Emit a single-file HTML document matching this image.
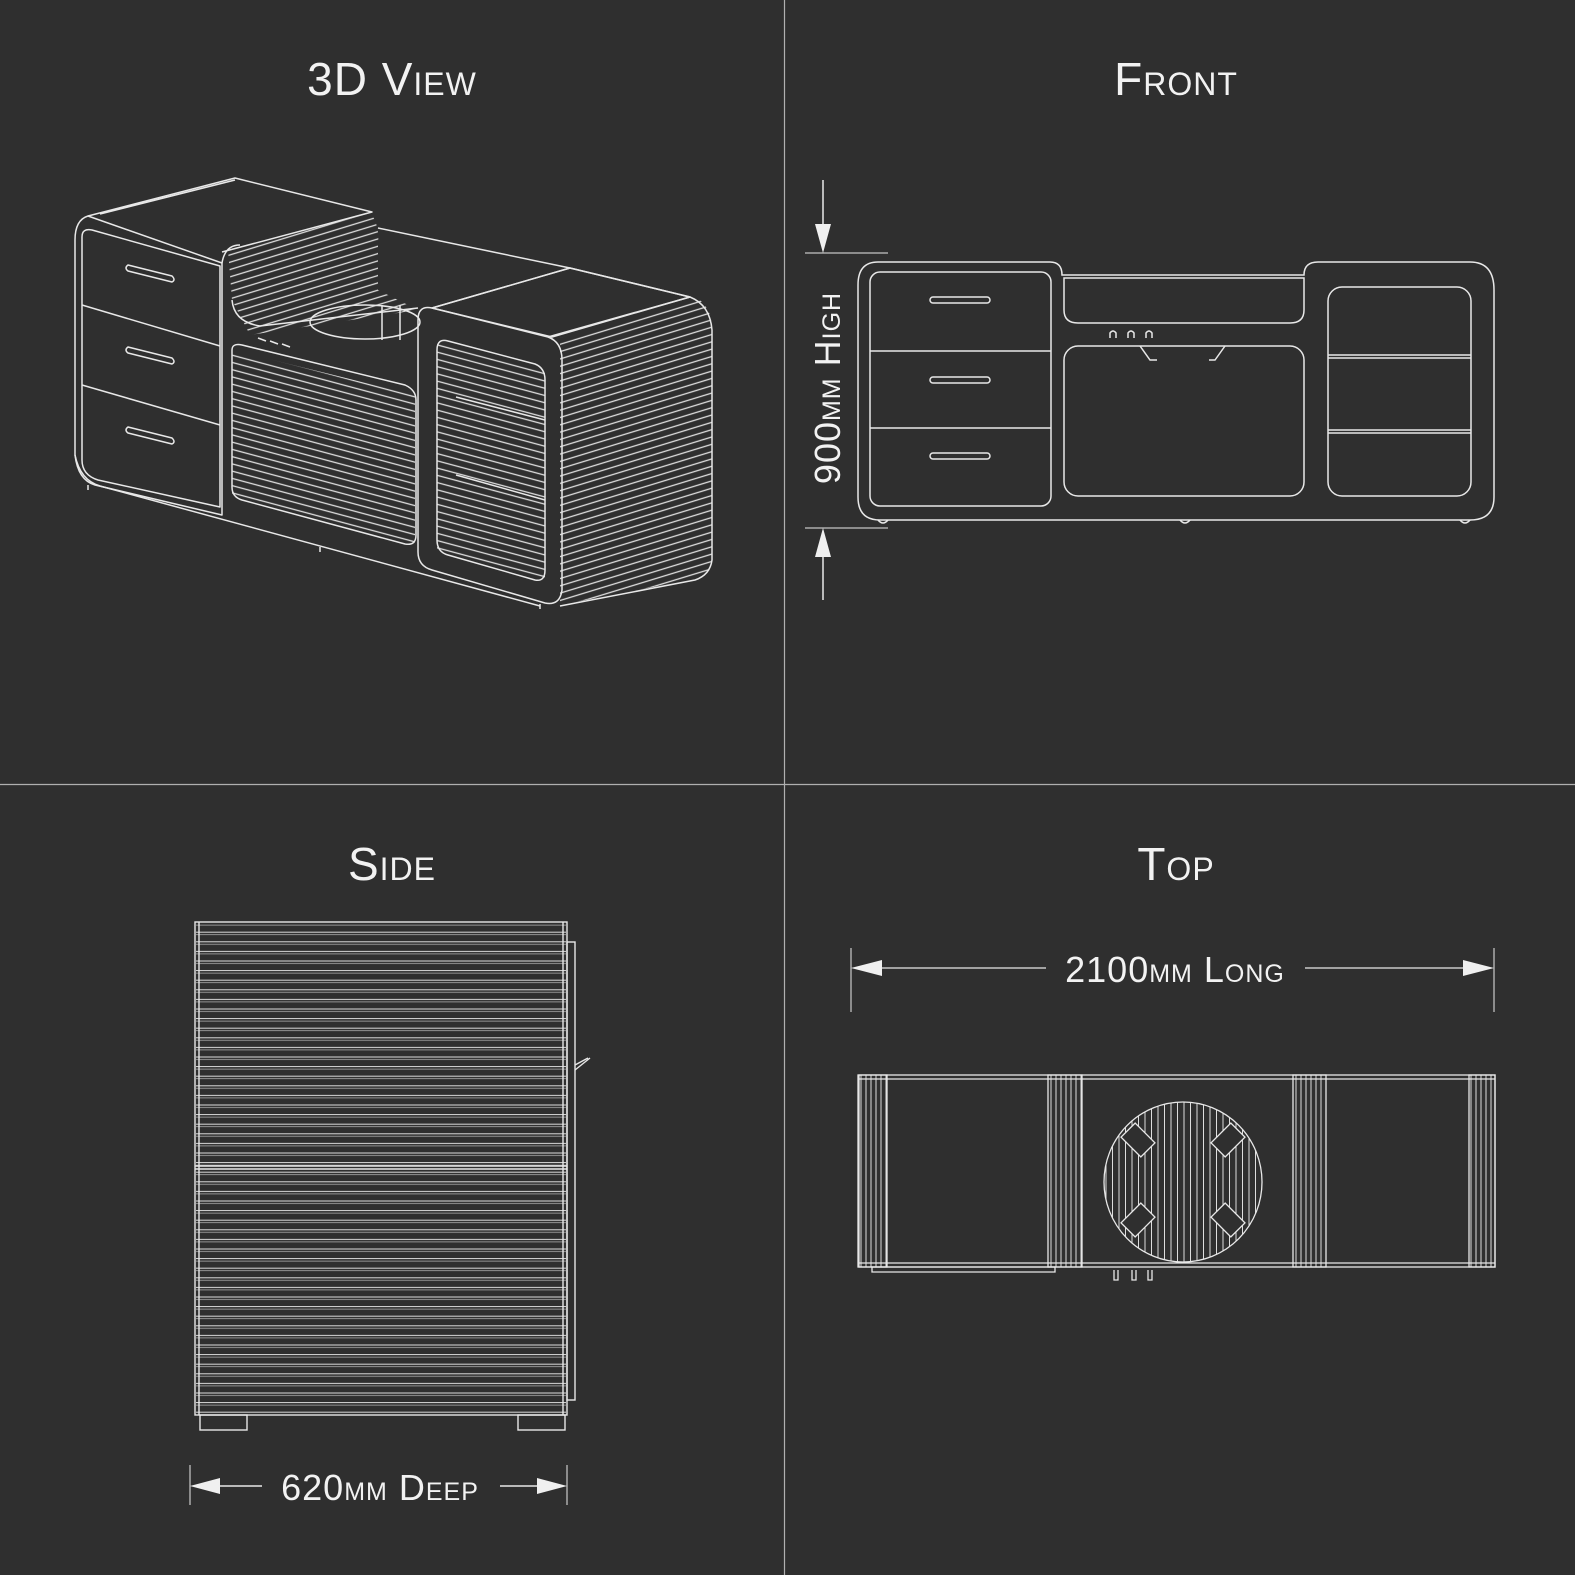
<!DOCTYPE html>
<html><head><meta charset="utf-8"><style>
html,body{margin:0;padding:0;background:#2f2f2f}
svg{display:block}
text{font-family:"Liberation Sans",sans-serif;fill:#f2f2f2;font-variant:small-caps}
</style></head><body>
<svg width="1575" height="1575" viewBox="0 0 1575 1575" xmlns="http://www.w3.org/2000/svg">
<defs>
<pattern id="s3" width="9" height="7" patternUnits="userSpaceOnUse" patternTransform="rotate(15)"><line x1="0" y1="3" x2="9" y2="3" stroke="#ddd" stroke-width="1.3"/></pattern>
<pattern id="s3b" width="9" height="7" patternUnits="userSpaceOnUse" patternTransform="rotate(-17)"><line x1="0" y1="3" x2="9" y2="3" stroke="#ddd" stroke-width="1.3"/></pattern>
<pattern id="sh" width="10" height="9.6" patternUnits="userSpaceOnUse"><line x1="0" y1="1" x2="10" y2="1" stroke="#ddd" stroke-width="1"/><line x1="0" y1="3.5" x2="10" y2="3.5" stroke="#aaa" stroke-width="0.8"/></pattern>
<pattern id="sv" width="5" height="10" patternUnits="userSpaceOnUse"><line x1="1" y1="0" x2="1" y2="10" stroke="#ddd" stroke-width="1"/></pattern>
<pattern id="sc" width="6.5" height="10" patternUnits="userSpaceOnUse"><line x1="1" y1="0" x2="1" y2="10" stroke="#ddd" stroke-width="1"/></pattern>
<clipPath id="cc"><ellipse cx="1183" cy="1182" rx="79" ry="80"/></clipPath>
</defs>
<rect width="1575" height="1575" fill="#2f2f2f"/>
<line x1="784.5" y1="0" x2="784.5" y2="1575" stroke="#b0b0b0" stroke-width="1.2"/>
<line x1="0" y1="784.5" x2="1575" y2="784.5" stroke="#b0b0b0" stroke-width="1.2"/>

<g font-size="46" text-anchor="middle" letter-spacing="1">
<text x="392" y="95">3D View</text>
<text x="1176" y="95">Front</text>
<text x="392" y="880">Side</text>
<text x="1176" y="880">Top</text>
</g>

<!-- 3D view -->
<g fill="none" stroke="#e8e8e8" stroke-width="1.5" stroke-linejoin="round">
<!-- back stripes areas -->
<path d="M228,250 L370,212 Q380,225 378,245 L378,290 L418,310 L250,335 L232,300 Z" fill="url(#s3b)" stroke="none"/>
<path d="M232,350 L415,395 L415,545 L232,497 Z" fill="url(#s3)" stroke="none"/>
<path d="M437,340 L545,368 L545,580 L437,553 Z" fill="url(#s3)" stroke="none"/>
<path d="M560,338 L700,300 Q712,310 712,330 L712,560 Q710,575 700,578 L560,605 Z" fill="url(#s3b)" stroke="none"/>
<path d="M432,308 L570,268 L690,297 L552,337 Z" fill="#2f2f2f"/>
<!-- left cabinet -->
<path d="M88,216 Q75,220 75,240 L75,455 Q78,480 95,485 L222,515 L222,263 Z" fill="#2f2f2f"/>
<path d="M82,237 Q82,228 92,230 L220,266 L220,507 L98,480 Q82,475 82,460 Z"/>
<path d="M88,216 L235,178 L372,212 L222,252"/>
<path d="M100,214 L235,180"/>
<line x1="82" y1="305" x2="220" y2="346"/>
<line x1="82" y1="385" x2="220" y2="425"/>
<path d="M128,265 L172,276 Q176,280 172,282 L128,271 Q124,268 128,265Z"/>
<path d="M128,347 L172,358 Q176,362 172,364 L128,353 Q124,350 128,347Z"/>
<path d="M128,427 L172,438 Q176,442 172,444 L128,433 Q124,430 128,427Z"/>
<!-- mid -->
<path d="M222,263 Q225,245 240,245"/>
<path d="M378,228 L570,268"/>
<path d="M232,300 Q234,322 260,326 L418,308"/>
<path d="M232,350 Q232,343 242,345 L405,385 Q416,390 416,400 L416,535 Q416,546 405,544 L242,500 Q232,497 232,487 Z"/>
<ellipse cx="365" cy="322" rx="55" ry="17"/>
<line x1="382" y1="305" x2="382" y2="340"/><line x1="400" y1="305" x2="400" y2="340"/>
<path d="M258,338 l8,3 M270,341 l8,3 M282,344 l8,3"/>
<!-- right block frame -->
<path d="M418,320 Q418,305 432,308 L548,337 Q562,342 562,360 L562,590 Q560,606 545,603 L432,570 Q418,566 418,552 Z" fill="none"/>
<path d="M437,350 Q437,338 448,341 L535,364 Q545,368 545,380 L545,570 Q545,582 535,580 L448,555 Q437,552 437,540 Z"/>
<line x1="456" y1="397" x2="545" y2="420"/>
<line x1="456" y1="475" x2="545" y2="500"/>
<path d="M432,308 L570,268 L690,297 Q710,305 712,330 L712,560 Q710,575 695,580 L560,606"/>
<path d="M75,455 Q80,480 100,486 L540,606"/>
<path d="M548,337 L690,297"/>
<path d="M88,485 l0,5 M320,547 l0,5 M540,604 l0,5"/>
</g>

<!-- Front view -->
<g fill="none" stroke="#e8e8e8" stroke-width="1.5">
<path d="M878,262 L1050,262 Q1062,262 1062,275 L1062,275 L1304,275 Q1304,262 1318,262 L1470,262 Q1494,262 1494,290 L1494,497 Q1494,520 1470,520 L880,520 Q858,520 858,497 L858,285 Q858,262 878,262 Z"/>
<rect x="870" y="272" width="181" height="234" rx="10"/>
<line x1="870" y1="351" x2="1051" y2="351"/><line x1="870" y1="428" x2="1051" y2="428"/>
<rect x="930" y="297" width="60" height="6" rx="3"/>
<rect x="930" y="377" width="60" height="6" rx="3"/>
<rect x="930" y="453" width="60" height="6" rx="3"/>
<path d="M1064,278 L1304,278 L1304,310 Q1304,323 1290,323 L1078,323 Q1064,323 1064,310 Z"/>
<rect x="1064" y="346" width="240" height="150" rx="14"/>
<rect x="1328" y="287" width="143" height="209" rx="14"/>
<line x1="1328" y1="355" x2="1471" y2="355"/><line x1="1328" y1="358" x2="1471" y2="358"/>
<line x1="1328" y1="430" x2="1471" y2="430"/><line x1="1328" y1="433" x2="1471" y2="433"/>
<path d="M1110,338 v-5 q3,-4 6,0 v5 M1128,338 v-5 q3,-4 6,0 v5 M1146,338 v-5 q3,-4 6,0 v5"/>
<path d="M1140,346 l10,14 l7,0 M1225,346 l-10,14 l-6,0"/>
<path d="M878,520 q5,6 10,0 M1180,520 q5,6 10,0 M1460,520 q5,6 10,0"/>
<!-- dimension -->
<line x1="823" y1="180" x2="823" y2="240"/>
<line x1="823" y1="545" x2="823" y2="600"/>
<line x1="805" y1="253" x2="888" y2="253" stroke-width="1"/>
<line x1="805" y1="528" x2="888" y2="528" stroke-width="1"/>
</g>
<path d="M815,224 L831,224 L823,253 Z M815,557 L831,557 L823,528 Z" fill="#f0f0f0"/>
<text x="0" y="0" font-size="36" text-anchor="middle" transform="translate(840,388) rotate(-90)" letter-spacing="1">900mm High</text>

<!-- Side view -->
<rect x="196" y="924" width="370" height="490" fill="url(#sh)"/>
<g fill="none" stroke="#e8e8e8" stroke-width="1.4">
<rect x="195" y="922" width="372" height="493"/>
<line x1="199" y1="922" x2="199" y2="1415"/><line x1="563" y1="922" x2="563" y2="1415"/>
<rect x="567" y="942" width="8" height="458"/>
<line x1="195" y1="1166" x2="567" y2="1166"/><line x1="195" y1="1169" x2="567" y2="1169"/>
<rect x="200" y="1415" width="47" height="15"/><rect x="518" y="1415" width="47" height="15"/>
<path d="M575,1070 L590,1058 M575,1065 L588,1058"/>
<line x1="190" y1="1465" x2="190" y2="1505" stroke-width="1"/>
<line x1="567" y1="1465" x2="567" y2="1505" stroke-width="1"/>
<line x1="215" y1="1486" x2="262" y2="1486"/>
<line x1="500" y1="1486" x2="540" y2="1486"/>
</g>
<path d="M190,1486 L220,1478 L220,1494 Z M567,1486 L537,1478 L537,1494 Z" fill="#f0f0f0"/>
<text x="380" y="1500" font-size="36" text-anchor="middle" letter-spacing="1">620mm Deep</text>

<!-- Top view -->
<g fill="none" stroke="#e8e8e8" stroke-width="1.3">
<line x1="851" y1="948" x2="851" y2="1012" stroke-width="1"/>
<line x1="1494" y1="948" x2="1494" y2="1012" stroke-width="1"/>
<line x1="875" y1="968" x2="1046" y2="968"/>
<line x1="1305" y1="968" x2="1470" y2="968"/>
<rect x="859" y="1075" width="28" height="192" fill="url(#sv)"/>
<rect x="1048" y="1075" width="34" height="192" fill="url(#sv)"/>
<rect x="1293" y="1075" width="33" height="192" fill="url(#sv)"/>
<rect x="1469" y="1075" width="26" height="192" fill="url(#sv)"/>
<rect x="858" y="1075" width="637" height="192"/>
<line x1="858" y1="1079" x2="1495" y2="1079"/>
<line x1="858" y1="1263" x2="1495" y2="1263"/>
<path d="M872,1267 L1055,1267 L1055,1272 L872,1272 Z"/>
<rect x="1100" y="1100" width="170" height="170" fill="url(#sc)" clip-path="url(#cc)" stroke="none"/>
<ellipse cx="1183" cy="1182" rx="79" ry="80"/>
<g fill="#2f2f2f">
<rect x="-14" y="-10" width="28" height="20" transform="translate(1138,1140) rotate(45)"/>
<rect x="-14" y="-10" width="28" height="20" transform="translate(1228,1140) rotate(-45)"/>
<rect x="-14" y="-10" width="28" height="20" transform="translate(1138,1220) rotate(-45)"/>
<rect x="-14" y="-10" width="28" height="20" transform="translate(1228,1220) rotate(45)"/>
</g>
<path d="M1114,1270 v10 h4 v-10 M1132,1270 v10 h4 v-10 M1148,1270 v10 h4 v-10"/>
</g>
<path d="M851,968 L882,960 L882,976 Z M1494,968 L1463,960 L1463,976 Z" fill="#f0f0f0"/>
<text x="1175" y="982" font-size="36" text-anchor="middle" letter-spacing="1">2100mm Long</text>
</svg>
</body></html>
